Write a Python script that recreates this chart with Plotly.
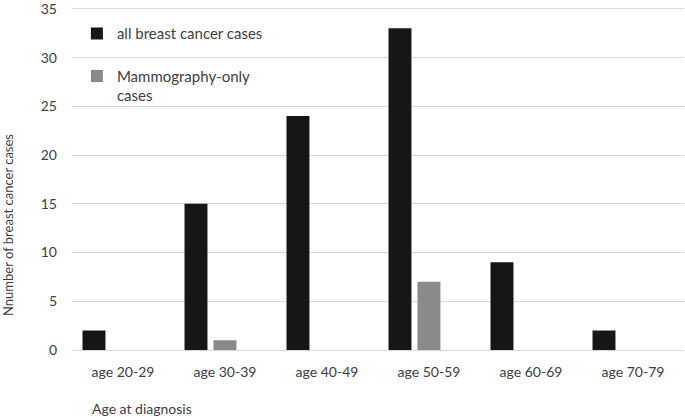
import plotly.graph_objects as go

categories = ["age 20-29", "age 30-39", "age 40-49", "age 50-59", "age 60-69", "age 70-79"]
all_cases = [2, 15, 24, 33, 9, 2]
mammo_only = [0, 1, 0, 7, 0, 0]
y_ticks = [0, 5, 10, 15, 20, 25, 30, 35]

FONT = "Lato"
TXT = "#404040"

fig = go.Figure()
fig.add_trace(go.Bar(
    x=categories, y=all_cases, name="all breast cancer cases",
    width=0.225, offset=-0.397, legendgroup="g0",
    marker=dict(color="#161616", line=dict(width=0)),
))
fig.add_trace(go.Bar(
    x=categories, y=mammo_only, name="Mammography-only<br>cases",
    width=0.225, offset=-0.113, legendgroup="g1",
    marker=dict(color="#8a8a8a", line=dict(width=0)),
))

fig.update_layout(
    width=685, height=417,
    margin=dict(l=72, r=1, t=4, b=67),
    paper_bgcolor="white", plot_bgcolor="white",
    font=dict(family=FONT, size=14, color=TXT),
    showlegend=True,
    legend=dict(x=0.008, y=0.962, xanchor="left", yanchor="top",
                bgcolor="rgba(0,0,0,0)", font=dict(family=FONT, size=15, color=TXT),
                valign="top", traceorder="grouped", tracegroupgap=20, itemwidth=30),
    xaxis=dict(type="category", categoryorder="array", categoryarray=categories,
               range=[-0.5, 5.5], showgrid=False, showline=False, ticks="",
               ticklabelstandoff=12, tickfont=dict(family=FONT, size=14, color=TXT)),
    yaxis=dict(range=[0, 35.5], tickmode="array", tickvals=y_ticks,
               ticktext=[str(v) for v in y_ticks], showgrid=True, gridcolor="#d9d9d9",
               gridwidth=1.2, zeroline=True, zerolinecolor="#d9d9d9", zerolinewidth=1.2,
               showline=False, ticks="", ticklabelstandoff=14, ticklabeloverflow="allow",
               tickfont=dict(family=FONT, size=14, color=TXT)),
    annotations=[
        dict(text="Age at diagnosis", xref="paper", yref="paper",
             x=(90 - 72) / 612, y=(350 - 408) / 346, xanchor="left", yanchor="middle",
             showarrow=False, font=dict(family=FONT, size=14, color=TXT)),
        dict(text="Nnumber of breast cancer cases", xref="paper", yref="paper",
             x=(8 - 72) / 612, y=(350 - 225) / 346, xanchor="center", yanchor="middle",
             textangle=-90, showarrow=False, font=dict(family=FONT, size=13, color=TXT)),
    ],
)

fig.write_html("out.html", config={"displayModeBar": False},
               post_script="document.body.style.margin='0';document.body.style.padding='0';")
